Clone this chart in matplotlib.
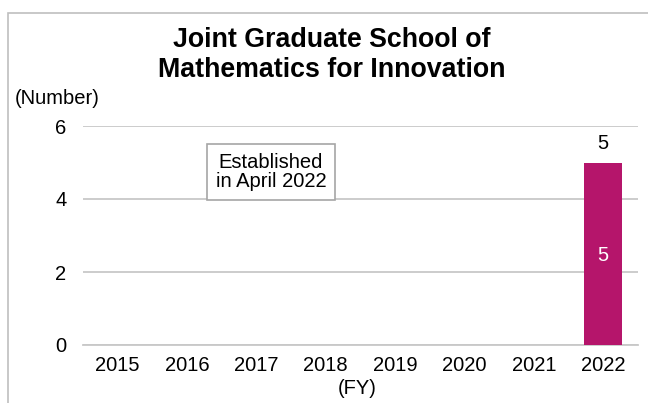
import matplotlib
matplotlib.use("Agg")
import matplotlib.pyplot as plt
from matplotlib.patches import Rectangle

years = ["2015", "2016", "2017", "2018", "2019", "2020", "2021", "2022"]
values = [0, 0, 0, 0, 0, 0, 0, 5]
yticks = [0, 2, 4, 6]
title = "Joint Graduate School of\nMathematics for Innovation"
note = "Established\nin April 2022"

plt.rcParams['font.family'] = ['Liberation Sans', 'DejaVu Sans']

W, H = 648, 403
fig = plt.figure(figsize=(W/100, H/100), dpi=100)
ax = fig.add_axes([83/W, 1-345/H, (638-83)/W, (345-126)/H])

FS = 14.5
x = list(range(len(years)))
bar_color = "#B5156B"
bars = ax.bar(x, values, width=0.55, color=bar_color, zorder=3)
ax.set_xlim(-0.5, len(years)-0.5)
ax.set_ylim(0, 6)
ax.set_yticks(yticks)
ax.set_xticks(x)
ax.set_xticklabels(years)
ax.tick_params(axis='both', length=0, labelsize=FS, colors='black')
ax.tick_params(axis='y', pad=12)
ax.tick_params(axis='x', pad=8)
ax.grid(axis='y', color='#C8C8C8', linewidth=1.3, zorder=0)
for s in ['top', 'right', 'left']:
    ax.spines[s].set_visible(False)
ax.spines['bottom'].set_color('#C8C8C8')
ax.spines['bottom'].set_linewidth(1.3)

for xi, v in zip(x, values):
    if v > 0:
        ax.text(xi, v + 0.25, str(v), ha='center', va='bottom', fontsize=FS, color='black')
        ax.text(xi, v / 2 - 0.05, str(v), ha='center', va='center', fontsize=FS, color='white', zorder=4)

fig.text(332/W, 1-55/H, title, ha='center', va='center', fontsize=19.3, fontweight='bold', linespacing=1.2)
fig.text(15/W, 1-98/H, "(Number)", ha='left', va='center', fontsize=FS)
fig.text(357/W, 1-388/H, "(FY)", ha='center', va='center', fontsize=FS)

ax.text(2.21, 4.74, note, ha='center', va='center', fontsize=FS, linespacing=1.0,
        bbox=dict(boxstyle='square,pad=0.45', facecolor='white', edgecolor='#A6A6A6', linewidth=1.2), zorder=5)

fig.patches.append(Rectangle((7.5/W, -0.1), 1.2, 1 - 12.5/H + 0.1, transform=fig.transFigure,
                             fill=False, edgecolor='#BFBFBF', linewidth=1.2))

fig.savefig("out.png", dpi=100)
